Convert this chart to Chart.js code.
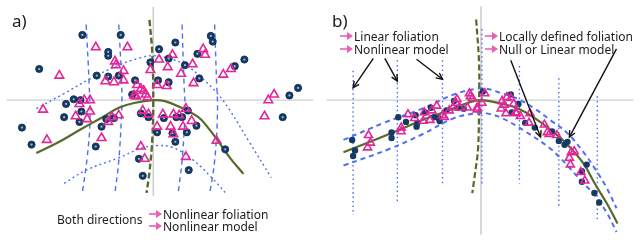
<!DOCTYPE html>
<html>
<head>
<meta charset="utf-8">
<script src="https://cdn.jsdelivr.net/npm/chart.js@4/dist/chart.umd.min.js"></script>
<style>
  html, body { margin: 0; padding: 0; background: #fff; width: 640px; height: 241px; overflow: hidden; }
  canvas { position: absolute; top: 0; }
  #left { left: 0; }
  #right { left: 320px; }
</style>
</head>
<body>
<canvas id="left" width="320" height="241"></canvas>
<canvas id="right" width="320" height="241"></canvas>
<script>
// ---- panel a) data (units: offset from the axis cross, y up) ----
const aCircles = [[-74,69],[-34,69],[-47,51],[-47,47],[-119,33],[-59,26],[-47,25],[-36,26],[-3,40],[5,21],
  [-19,21],[-22,6],[-83,1],[-76,0],[-91,-4],[-75,-12],[-93,-18],[-77,-23],[-54,-28],[-5,-18],[-13,-14],
  [-137,-29],[60,68],[62,62],[23,61],[6,54],[46,49],[95,43],[16,44],[33,37],[85,36],[48,23],[16,19],
  [151,13],[142,5],[135,-18],[36,-11],[45,-27],[11,-19],[-127,-47],[-60,-49],[-15,-62],[-11,-80],
  [-49,-20],[-41,-19],[24,-18],[30,-18],[4,-34],[20,-35],[35,-34],[23,-44],[75,-52],[37,-74]];
const aTriangles = [[-60,56],[-27,56],[-98,26],[-40,41],[-39,37],[-31,31],[-3,32],[-50,20],[-41,19],[-31,21],
  [-17,16],[-13,12],[-10,10],[-8,6],[-20,5],[-18,4],[-6,3],[-77,-4],[-72,0],[-66,0],[-115,-10],[-66,-12],
  [-81,-17],[-69,-20],[-47,-23],[-43,-18],[-36,-16],[-11,-11],[-5,-15],[4,16],[52,54],[54,48],[20,48],
  [6,43],[15,35],[41,38],[29,28],[73,27],[81,33],[42,18],[14,15],[126,6],[120,0],[116,-17],[34,-9],
  [10,-15],[21,-15],[27,-16],[40,-22],[4,-28],[18,-28],[31,-28],[-111,-42],[-54,-40],[-13,-49],[-9,-62],
  [21,-36],[66,-43],[34,-60]];
const aModel = [[-122,-56],[-98,-44],[-76,-31],[-53,-18],[-36,-8],[-20,-3],[0,0],[12,-1],[27,-7],[47,-18],
  [57,-29],[66,-41],[80,-61],[94,-78]];
const aSplit = [[-4,85],[-1,49],[0,-1],[-1,-41],[-4,-76],[-7,-98]];
const aLeaves = [
  [[-70,80],[-67,19],[-66,-21],[-69,-61],[-74,-98]],
  [[-36,80],[-33,19],[-33,-11],[-36,-64],[-40,-98]],
  [[30,80],[32,19],[33,-11],[30,-64],[26,-98]],
  [[64,80],[66,19],[67,-11],[64,-64],[59,-98]]
];
const aUpperLeaf = [[-122,-9],[-93,7],[-67,22],[-36,37],[-13,45],[0,47],[17,44],[34,37],[50,24],[67,7],
  [80,-11],[100,-44],[123,-82]];
const aLowerLeaf = [[-93,-88],[-70,-74],[-36,-61],[-13,-51],[4,-48],[20,-50],[40,-62],[60,-81],[77,-100]];

// ---- panel b) data ----
const bCircles = [[-134,-42],[-131,-53],[-133,-59],[-93,-34],[-93,-40],[-86,-18],[-78,-23],[-68,-16],[-67,-28],
  [-66,-24],[-58,-13],[-52,-8],[-49,-18],[-44,-19],[-43,-22],[-36,-11],[-28,-1],[-24,-8],[-18,-9],[2,9],
  [31,6],[39,-4],[32,-13],[46,-24],[56,-29],[74,-33],[81,-43],[87,-47],[90,-44],[110,-68],[105,-75],
  [105,-86],[118,-98],[123,-108]];
const bTriangles = [[-117,-37],[-115,-45],[-118,-50],[-83,-29],[-83,-33],[-76,-15],[-69,-19],[-60,-22],[-53,-21],
  [-59,-13],[-51,-11],[-46,-6],[-40,-16],[-38,-18],[-33,-11],[-29,-8],[-26,-3],[-25,1],[-22,-8],[-14,-8],
  [-12,7],[-11,4],[-9,2],[-4,-8],[4,7],[1,-3],[-4,-10],[22,-1],[24,-5],[21,-9],[27,3],[31,2],[34,-4],
  [36,-13],[37,-14],[41,-17],[26,-14],[51,-14],[50,-24],[66,-26],[69,-34],[71,-36],[79,-37],[94,-55],
  [92,-61],[97,-54],[93,-68],[104,-76],[108,-85]];
const bModel = [[-143,-55],[-118,-45],[-84,-31],[-61,-21],[-34,-11],[-14,-3],[0,0],[22,-4],[39,-9],[56,-19],
  [72,-31],[89,-46],[106,-66],[119,-89],[131,-109],[142,-130]];
const bUpperBand = [[-143,-42],[-101,-24],[-61,-9],[-28,6],[-4,12],[6,12],[22,7],[39,1],[56,-9],[72,-21],
  [89,-34],[106,-54],[119,-73],[131,-93],[141,-114]];
const bLowerBand = [[-143,-69],[-94,-51],[-61,-36],[-28,-19],[-4,-14],[6,-14],[22,-19],[46,-33],[72,-51],
  [89,-68],[105,-86],[119,-101],[131,-119],[141,-139]];
const bSplit = [[-5,85],[-2,39],[-2,-1],[-3,-51],[-6,-76],[-9,-98]];
const bFoliationX = [-133, -87, -40, 1, 40, 81, 121];
const bFoliationTop = [31, 42, 42, 75, 36, 23, 4];
const bFoliationBottom = [-121, -108, -88, -88, -88, -114, -128];
// callout arrows: [fromX, fromY, toX, toY]
const bCallouts = [[-112,44,-133,13],[-100,44,-87,20],[-67,43,-40,22],[31,42,62,-39],[141,54,92,-39]];

const NAVY = '#143a66', PINK = '#e2279a', BLUE = '#4f6ff2', OLIVE = '#566b27', GRAY = '#cfcfcf';
const pts = a => a.map(([x, y]) => ({ x, y }));

function line(data, color, width, dash) {
  return { data: pts(data), showLine: true, borderColor: color, borderWidth: width, borderDash: dash || [],
    pointRadius: 0, tension: 0.4, fill: false };
}

function pinkArrow(ctx, x, y) {
  ctx.strokeStyle = '#e860b0';
  ctx.fillStyle = '#e860b0';
  ctx.lineWidth = 1.6;
  ctx.beginPath(); ctx.moveTo(x, y); ctx.lineTo(x + 9, y); ctx.stroke();
  ctx.beginPath(); ctx.moveTo(x + 13, y); ctx.lineTo(x + 7, y - 4); ctx.lineTo(x + 7, y + 4); ctx.closePath(); ctx.fill();
}

function text(ctx, s, x, y, size) {
  ctx.fillStyle = '#1c1c1c';
  ctx.font = (size || 12) + 'px "Noto Sans"';
  ctx.textBaseline = 'alphabetic';
  ctx.fillText(s, x, y);
}

function baseOptions(xmin, xmax) {
  return {
    responsive: false, animation: false, events: [],
    layout: { padding: 0 },
    plugins: { legend: { display: false }, tooltip: { enabled: false } },
    scales: {
      x: { type: 'linear', min: xmin, max: xmax, display: false },
      y: { type: 'linear', min: -142, max: 99, display: false }
    }
  };
}

// ---- panel a) ----
new Chart(document.getElementById('left'), {
  type: 'scatter',
  data: {
    datasets: [
      { data: pts(aTriangles), pointStyle: 'triangle', pointRadius: 5, borderColor: PINK, borderWidth: 1.6,
        backgroundColor: 'rgba(0,0,0,0)' },
      { data: pts(aCircles), pointRadius: 1.1, backgroundColor: '#aab8c8', borderWidth: 0 },
      { data: pts(aCircles), pointRadius: 3.6, backgroundColor: NAVY, borderColor: '#0e2c50', borderWidth: 0.8 },
      line(aModel, OLIVE, 2.2),
      line(aSplit, OLIVE, 2.4, [6, 3]),
      ...aLeaves.map(l => line(l, BLUE, 1.4, [5, 4])),
      line(aUpperLeaf, BLUE, 1.4, [2, 3]),
      line(aLowerLeaf, BLUE, 1.4, [2, 3]),
      line([[-153, 0], [167, 0]], GRAY, 1.2),
      line([[0, 99], [0, -101]], GRAY, 1.6)
    ]
  },
  options: baseOptions(-153, 167),
  plugins: [{
    id: 'labelsA',
    afterDraw(chart) {
      const ctx = chart.ctx;
      ctx.save();
      text(ctx, 'a)', 12, 27, 17);
      text(ctx, 'Both directions', 57, 224, 12);
      pinkArrow(ctx, 149, 214);
      text(ctx, 'Nonlinear foliation', 163, 219, 12);
      pinkArrow(ctx, 149, 226);
      text(ctx, 'Nonlinear model', 163, 231, 12);
      ctx.restore();
    }
  }]
});

// ---- panel b) ----
new Chart(document.getElementById('right'), {
  type: 'scatter',
  data: {
    datasets: [
      { data: pts(bTriangles), pointStyle: 'triangle', pointRadius: 4.6, borderColor: PINK, borderWidth: 1.6,
        backgroundColor: 'rgba(0,0,0,0)' },
      { data: pts(bCircles), pointRadius: 3.2, backgroundColor: NAVY, borderWidth: 0 },
      line(bModel, OLIVE, 2.2),
      line(bUpperBand, BLUE, 2, [5, 4]),
      line(bLowerBand, BLUE, 2, [5, 4]),
      line(bSplit, OLIVE, 2.2, [6, 3]),
      ...bFoliationX.map((x, i) => line([[x, bFoliationTop[i]], [x, bFoliationBottom[i]]], BLUE, 1.4, [1.5, 3])),
      line([[-161, 0], [159, 0]], GRAY, 1.2),
      line([[0, 99], [0, -142]], GRAY, 1.6)
    ]
  },
  options: baseOptions(-161, 159),
  plugins: [{
    id: 'labelsB',
    afterDraw(chart) {
      const ctx = chart.ctx, sx = chart.scales.x, sy = chart.scales.y;
      ctx.save();
      ctx.strokeStyle = '#111';
      ctx.lineWidth = 1.4;
      bCallouts.forEach(([x0, y0, x1, y1]) => {
        const px0 = sx.getPixelForValue(x0), py0 = sy.getPixelForValue(y0);
        const px1 = sx.getPixelForValue(x1), py1 = sy.getPixelForValue(y1);
        const a = Math.atan2(py1 - py0, px1 - px0);
        ctx.beginPath(); ctx.moveTo(px0, py0); ctx.lineTo(px1, py1); ctx.stroke();
        ctx.beginPath();
        ctx.moveTo(px1 - 7 * Math.cos(a - 0.45), py1 - 7 * Math.sin(a - 0.45));
        ctx.lineTo(px1, py1);
        ctx.lineTo(px1 - 7 * Math.cos(a + 0.45), py1 - 7 * Math.sin(a + 0.45));
        ctx.stroke();
      });
      text(ctx, 'b)', 12, 27, 17);
      pinkArrow(ctx, 20, 36);
      text(ctx, 'Linear foliation', 34, 41, 12);
      pinkArrow(ctx, 20, 49);
      text(ctx, 'Nonlinear model', 34, 54, 12);
      pinkArrow(ctx, 165, 36);
      text(ctx, 'Locally defined foliation', 179, 41, 12);
      pinkArrow(ctx, 165, 49);
      text(ctx, 'Null or Linear model', 179, 54, 12);
      ctx.restore();
    }
  }]
});
</script>
</body>
</html>
